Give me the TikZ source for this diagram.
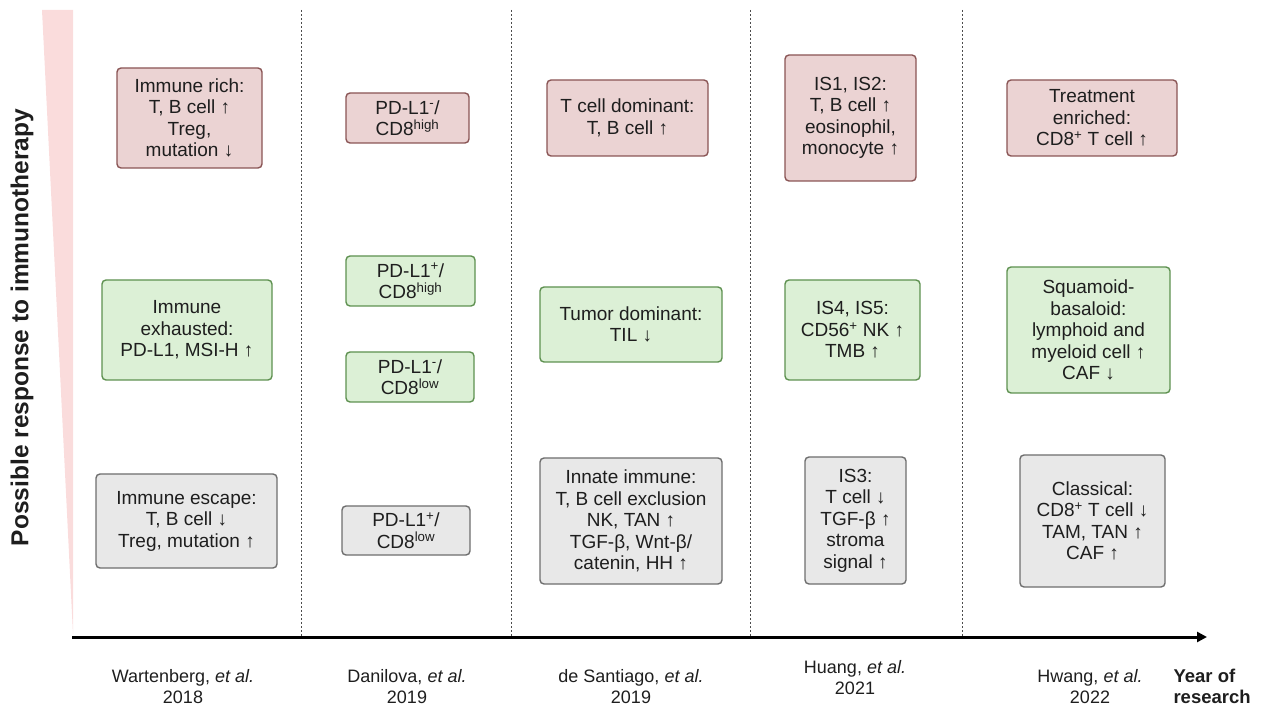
\documentclass[tikz,border=0pt]{standalone}
\usepackage{fontspec}
\setmainfont{Liberation Sans}
\usetikzlibrary{arrows.meta}
\definecolor{redfill}{HTML}{EBD3D3}
\definecolor{reddraw}{HTML}{8A5555}
\definecolor{greenfill}{HTML}{DCF0D6}
\definecolor{greendraw}{HTML}{5E9150}
\definecolor{grayfill}{HTML}{E8E8E8}
\definecolor{graydraw}{HTML}{6E6E6E}
\definecolor{wedgecol}{HTML}{FADCDC}
\definecolor{txt}{HTML}{1E1E1E}
\tikzset{
  box/.style={rounded corners=4pt, line width=1.4pt, align=center, inner sep=0pt,
    font=\fontsize{19}{21.5}\selectfont, text=txt},
  redbox/.style={box, fill=redfill, draw=reddraw},
  greenbox/.style={box, fill=greenfill, draw=greendraw},
  graybox/.style={box, fill=grayfill, draw=graydraw},
  sz/.style 2 args={minimum width=#1pt, minimum height=#2pt},
  divider/.style={draw=black!70, line width=0.9pt, dash pattern=on 2pt off 2pt},
  reflabel/.style={align=center, font=\fontsize{18}{21}\selectfont, text=txt},
}
\begin{document}
\begin{tikzpicture}[x=1pt,y=-1pt]
\useasboundingbox (0,0) rectangle (1262,708);
% wedge
\fill[wedgecol] (42,10) -- (73,10) -- (73,634) -- cycle;
% vertical label
\node[rotate=90, font=\bfseries\fontsize{24.5}{28}\selectfont, text=txt] (ylabel) at (22,327.5) {Possible response to immunotherapy};
% dividers
\foreach \xx/\nm in {301/d1, 511/d2, 750/d3, 962/d4}{
  \coordinate (\nm t) at (\xx,10);
  \coordinate (\nm b) at (\xx,637);
  \draw[divider] (\nm t) -- (\nm b);
}
% axis
\coordinate (ax0) at (72,637);
\coordinate (ax1) at (1207,637);
\draw[line width=3pt, -{Triangle[length=10pt,width=10pt]}] (ax0) -- (ax1);
% column 1
\node[redbox, sz={145}{100}] (r1) at (189.5,118) {Immune rich:\\T, B cell ↑\\Treg,\\mutation ↓};
\node[greenbox, sz={170}{100}] (g1) at (187,330) {Immune\\exhausted:\\PD-L1, MSI-H ↑};
\node[graybox, sz={181}{94}] (k1) at (186.5,521) {Immune escape:\\T, B cell ↓\\Treg, mutation ↑};
% column 2
\node[redbox, sz={123}{50}] (r2) at (407.5,118) {PD-L1\textsuperscript{-}/\\CD8\textsuperscript{high}};
\node[greenbox, sz={129}{50}] (g2a) at (410.5,281) {PD-L1\textsuperscript{+}/\\CD8\textsuperscript{high}};
\node[greenbox, sz={128}{50}] (g2b) at (410,377) {PD-L1\textsuperscript{-}/\\CD8\textsuperscript{low}};
\node[graybox, sz={128}{49}] (k2) at (406,530.5) {PD-L1\textsuperscript{+}/\\CD8\textsuperscript{low}};
% column 3
\node[redbox, sz={161}{76}] (r3) at (627.5,118) {T cell dominant:\\T, B cell ↑};
\node[greenbox, sz={182}{75}] (g3) at (631,324.5) {Tumor dominant:\\TIL ↓};
\node[graybox, sz={182}{126}] (k3) at (631,521) {Innate immune:\\T, B cell exclusion\\NK, TAN ↑\\TGF-β, Wnt-β/\\catenin, HH ↑};
% column 4
\node[redbox, sz={131}{126}] (r4) at (850.5,118) {IS1, IS2:\\T, B cell ↑\\eosinophil,\\monocyte ↑};
\node[greenbox, sz={135}{100}] (g4) at (852.5,330) {IS4, IS5:\\CD56\textsuperscript{+} NK ↑\\TMB ↑};
\node[graybox, sz={101}{127}] (k4) at (855.5,520.5) {IS3:\\T cell ↓\\TGF-β ↑\\stroma\\signal ↑};
% column 5
\node[redbox, sz={170}{76}] (r5) at (1092,118) {Treatment\\enriched:\\CD8\textsuperscript{+} T cell ↑};
\node[greenbox, sz={163}{126}] (g5) at (1088.5,330) {Squamoid-\\basaloid:\\lymphoid and\\myeloid cell ↑\\CAF ↓};
\node[graybox, sz={145}{132}] (k5) at (1092.5,521) {Classical:\\CD8\textsuperscript{+} T cell ↓\\TAM, TAN ↑\\CAF ↑};
% references
\node[reflabel] (ref1) at (183,686.5) {Wartenberg, \emph{et al.}\\2018};
\node[reflabel] (ref2) at (407,686.5) {Danilova, \emph{et al.}\\2019};
\node[reflabel] (ref3) at (631,686.5) {de Santiago, \emph{et al.}\\2019};
\node[reflabel] (ref4) at (855,677.5) {Huang, \emph{et al.}\\2021};
\node[reflabel] (ref5) at (1090,686.5) {Hwang, \emph{et al.}\\2022};
\node[reflabel, align=left, anchor=west, font=\bfseries\fontsize{18.5}{21}\selectfont] (yearlabel) at (1170,686.5) {Year of\\research};
\end{tikzpicture}
\end{document}
